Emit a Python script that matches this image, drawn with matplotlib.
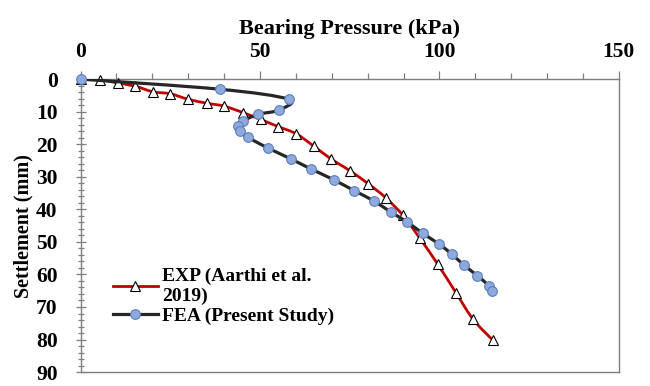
import numpy as np
import matplotlib
matplotlib.use("Agg")
import matplotlib.pyplot as plt
from matplotlib.path import Path
from matplotlib.patches import PathPatch
from matplotlib.lines import Line2D
from matplotlib.ticker import MultipleLocator

plt.rcParams['font.family'] = ['Liberation Serif', 'DejaVu Serif']
plt.rcParams['font.weight'] = 'bold'

# ---- data ----
exp_x = [0, 5.4, 10.3, 15.3, 20.2, 25, 30, 35.2, 40, 45.3, 50.2, 55.1, 60.1,
         65, 69.9, 75, 80.1, 85, 89.8, 94.5, 99.5, 104.6, 109.4, 114.8]
exp_y = [0, 0.2, 1.2, 2.2, 3.9, 4.5, 6.2, 7.4, 8.3, 10.3, 12.4, 14.6, 16.8,
         20.6, 24.6, 28.1, 32.1, 36.4, 41.8, 48.8, 56.8, 65.6, 73.8, 80.1]

fea_x = [0, 38.8, 58, 55.3, 49.5, 45.4, 44, 44.5, 46.7, 52.1, 58.6, 64.2,
         70.7, 76.3, 81.7, 86.4, 90.9, 95.4, 99.8, 103.5, 106.8, 110.6, 113.7, 114.6]
fea_y = [0, 3.1, 6.2, 9.5, 10.8, 12.8, 14.3, 15.9, 17.9, 21.1, 24.5, 27.6,
         31, 34.3, 37.4, 40.8, 43.8, 47.4, 50.6, 53.8, 57.1, 60.4, 63.4, 65.1]

exp_label = "EXP (Aarthi et al.\n2019)"
fea_label = "FEA (Present Study)"
x_title = "Bearing Pressure (kPa)"
y_title = "Settlement (mm)"


def smooth_path(xs, ys):
    """Excel-style smoothed line as cubic Bezier segments through the points."""
    p = np.column_stack([xs, ys]).astype(float)
    n = len(p)
    verts = [p[0]]
    codes = [Path.MOVETO]
    for i in range(n - 1):
        p0 = p[i - 1] if i > 0 else p[i]
        p1 = p[i]
        p2 = p[i + 1]
        p3 = p[i + 2] if i + 2 < n else p[i + 1]
        c1 = p1 + (p2 - p0) / 6.0
        c2 = p2 - (p3 - p1) / 6.0
        verts += [c1, c2, p2]
        codes += [Path.CURVE4] * 3
    return Path(verts, codes)


fig = plt.figure(figsize=(6.5, 3.86), dpi=100)
ax = fig.add_axes([0.124, 0.036, 0.828, 0.759])

red = '#C00000'
dark = '#262626'
blue_fill = '#8EA9DB'
blue_edge = '#5B7FC0'

ax.add_patch(PathPatch(smooth_path(exp_x, exp_y), facecolor='none',
                       edgecolor=red, lw=2.0, zorder=2))
ax.plot(exp_x, exp_y, ls='none', marker='^', ms=7, mfc='white',
        mec='black', mew=0.8, zorder=3, clip_on=False)

ax.add_patch(PathPatch(smooth_path(fea_x, fea_y), facecolor='none',
                       edgecolor=dark, lw=2.3, zorder=4))
ax.plot(fea_x, fea_y, ls='none', marker='o', ms=7, mfc=blue_fill,
        mec=blue_edge, mew=0.8, zorder=5, clip_on=False)

ax.set_xlim(0, 150)
ax.set_ylim(90, 0)

ax.xaxis.tick_top()
ax.xaxis.set_label_position('top')
ax.xaxis.set_major_locator(MultipleLocator(50))
ax.xaxis.set_minor_locator(MultipleLocator(10))
ax.yaxis.set_major_locator(MultipleLocator(10))
ax.yaxis.set_minor_locator(MultipleLocator(2))

ax.tick_params(axis='x', which='major', direction='out', length=6, width=0.9,
               color='#7f7f7f', labelsize=15.5, pad=6)
ax.tick_params(axis='x', which='minor', direction='out', length=4.5, width=0.9,
               color='#7f7f7f')
ax.tick_params(axis='y', which='major', direction='inout', length=7, width=0.9,
               color='#7f7f7f', labelsize=15.5, pad=13)
ax.tick_params(axis='y', which='minor', direction='inout', length=5, width=0.9,
               color='#7f7f7f')

for s in ax.spines.values():
    s.set_color('#7f7f7f')
    s.set_linewidth(1.0)

ax.set_xlabel(x_title, fontsize=16, fontweight='bold', labelpad=6)
ax.set_ylabel(y_title, fontsize=14.5, fontweight='bold', labelpad=2)

handles = [
    Line2D([], [], color=red, lw=2.0, marker='^', ms=7, mfc='white',
           mec='black', mew=0.8),
    Line2D([], [], color=dark, lw=2.3, marker='o', ms=7, mfc=blue_fill,
           mec=blue_edge, mew=0.8),
]
ax.legend(handles, [exp_label, fea_label], loc='lower left',
          bbox_to_anchor=(0.046, 0.135), frameon=False, fontsize=14,
          handlelength=2.3, handletextpad=0.2, labelspacing=0.1,
          borderaxespad=0)

fig.savefig('out.png', dpi=100)
